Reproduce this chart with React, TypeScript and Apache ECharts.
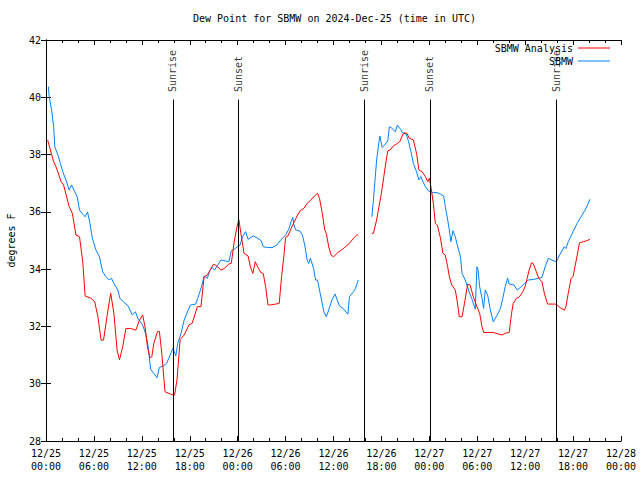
import React, { useEffect, useRef } from "react";
import * as echarts from "echarts";

// hours since 2024-12-25 00:00 UTC
const redHours = [0.2, 0.96, 1.25, 1.9, 2.2, 2.9, 3.3, 3.75, 4.2, 4.6, 4.9, 5.6, 6.1, 6.5, 6.9, 7.2, 7.7, 8.1, 8.5, 8.9, 9.2, 9.6, 10.0, 10.6, 11.25, 11.7, 12.1, 12.4, 12.7, 13.0, 13.25, 13.5, 13.96, 14.2, 14.5, 14.9, 15.4, 15.96, 16.1, 16.4, 16.8, 17.3, 17.9, 18.3, 18.96, 19.4, 19.8, 20.2, 20.6, 20.96, 21.25, 21.9, 22.3, 22.9, 23.2, 23.6, 23.96, 24.16, 24.4, 24.8, 25.3, 25.6, 25.9, 26.2, 26.6, 26.9, 27.2, 27.5, 27.8, 28.1, 28.75, 29.2, 29.5, 29.8, 30.0, 30.3, 30.7, 31.1, 31.5, 31.9, 32.3, 32.7, 33.1, 33.6, 34.0, 34.25, 34.6, 34.9, 35.1, 35.4, 35.7, 36.0, 36.5, 37.0, 37.5, 38.0, 38.5, 38.9, 39.1, 40.0, 40.8, 41.0, 41.4, 41.7, 42.0, 42.3, 42.6, 42.8, 43.1, 43.5, 44.0, 44.3, 44.6, 44.8, 45.2, 45.5, 46.0, 46.4, 46.7, 47.1, 47.5, 47.8, 48.0, 48.2, 48.5, 48.75, 49.0, 49.4, 49.7, 50.0, 50.3, 50.5, 50.8, 51.25, 51.5, 51.75, 52.1, 52.4, 52.8, 53.1, 53.5, 53.96, 54.3, 54.6, 54.8, 56.0, 56.7, 57.1, 57.5, 58.0, 58.3, 58.5, 58.9, 59.3, 59.7, 60.0, 60.2, 60.5, 60.8, 61.0, 61.4, 61.7, 62.1, 62.4, 62.8, 63.9, 64.4, 64.9, 65.1, 65.4, 65.75, 66.0, 66.4, 66.8, 67.3, 67.7, 68.1];
const redValues = [38.51, 37.75, 37.58, 37.05, 36.94, 36.18, 35.95, 35.19, 35.13, 34.26, 33.06, 32.99, 32.86, 32.34, 31.52, 31.52, 32.46, 33.16, 32.46, 31.18, 30.83, 31.29, 31.93, 31.93, 31.87, 32.22, 32.4, 31.99, 31.29, 30.91, 30.94, 31.41, 31.82, 31.82, 31.06, 29.72, 29.66, 29.6, 29.6, 30.13, 31.55, 31.7, 32.05, 32.11, 32.69, 32.69, 33.74, 33.79, 33.99, 34.17, 34.14, 33.97, 34.02, 34.18, 34.2, 35.02, 35.54, 35.72, 35.25, 34.55, 34.46, 34.08, 33.85, 34.26, 34.03, 33.88, 33.85, 33.39, 32.75, 32.75, 32.78, 32.8, 33.74, 34.49, 35.11, 35.16, 35.42, 35.66, 35.89, 36.06, 36.12, 36.3, 36.39, 36.55, 36.65, 36.47, 35.95, 35.37, 35.25, 34.78, 34.49, 34.43, 34.57, 34.67, 34.78, 34.9, 35.08, 35.19, 35.19, null, 35.25, 35.25, 35.72, 36.18, 36.65, 37.23, 37.81, 38.13, 38.16, 38.3, 38.39, 38.45, 38.65, 38.76, 38.74, 38.57, 38.51, 38.04, 37.46, 37.4, 37.23, 37.05, 37.17, 36.88, 36.3, 35.6, 35.54, 35.08, 34.55, 34.49, 34.08, 33.74, 33.45, 33.27, 32.86, 32.34, 32.34, 32.8, 33.48, 33.45, 33.04, 32.69, 32.46, 31.99, 31.79, 31.79, 31.73, 31.7, 31.76, 31.79, 32.46, 32.8, 32.98, 33.04, 33.21, 33.39, 33.62, 33.97, 34.22, 34.2, 33.91, 33.68, 33.56, 33.16, 32.78, 32.78, 32.65, 32.57, 32.69, 33.16, 33.68, 33.74, 34.32, 34.92, 34.96, 34.99, 35.04];

const blueHours = [0.3, 0.4, 0.7, 0.96, 1.1, 1.5, 1.8, 2.1, 2.5, 2.9, 3.2, 3.5, 3.9, 4.2, 4.5, 4.9, 5.2, 5.5, 5.8, 6.25, 6.7, 7.1, 7.5, 7.9, 8.2, 8.5, 9.0, 9.25, 9.7, 10.3, 10.8, 11.2, 11.5, 12.1, 12.5, 12.8, 13.1, 13.5, 13.9, 14.2, 14.7, 15.1, 15.5, 15.9, 16.25, 16.5, 16.9, 17.3, 17.7, 18.1, 18.75, 19.0, 19.5, 19.8, 20.2, 20.5, 20.8, 21.1, 21.5, 21.9, 22.4, 22.9, 23.2, 23.6, 23.96, 24.3, 24.6, 25.0, 25.3, 25.96, 26.5, 26.96, 27.2, 27.7, 28.3, 28.9, 29.4, 30.0, 30.4, 30.7, 30.9, 31.0, 31.25, 31.8, 32.1, 32.4, 32.7, 32.9, 33.1, 33.5, 33.75, 34.0, 34.5, 34.8, 35.1, 35.4, 35.8, 36.2, 36.5, 36.75, 37.2, 37.8, 38.0, 38.5, 38.75, 39.1, 40.0, 40.8, 41.0, 41.2, 41.4, 41.7, 41.8, 42.1, 42.4, 42.8, 43.0, 43.3, 43.75, 44.0, 44.4, 44.7, 45.1, 45.4, 45.7, 46.0, 46.4, 46.7, 46.96, 47.2, 47.5, 47.9, 48.5, 49.0, 49.4, 49.8, 50.0, 50.3, 50.5, 50.7, 50.96, 51.25, 51.5, 51.9, 52.1, 52.5, 52.9, 53.3, 53.75, 53.96, 54.1, 54.3, 54.6, 54.8, 55.0, 55.3, 55.6, 56.0, 56.5, 56.9, 57.2, 57.5, 57.8, 58.0, 58.6, 59.0, 59.5, 59.9, 60.4, 61.0, 61.7, 62.1, 62.5, 62.9, 63.3, 63.9, 64.3, 64.9, 65.1, 65.4, 66.0, 66.5, 67.0, 67.5, 67.9, 68.1];
const blueValues = [40.37, 40.02, 39.56, 38.97, 38.27, 37.98, 37.69, 37.4, 37.11, 36.76, 36.94, 36.76, 36.53, 36.06, 35.95, 35.83, 36.0, 35.6, 35.08, 34.67, 34.43, 33.91, 33.74, 33.62, 33.68, 33.5, 33.27, 32.98, 32.86, 32.71, 32.4, 32.51, 32.28, 32.05, 31.73, 31.29, 30.5, 30.36, 30.21, 30.57, 30.62, 30.71, 30.97, 31.24, 30.97, 31.41, 31.75, 32.22, 32.51, 32.75, 32.78, 32.98, 33.41, 33.76, 33.68, 33.94, 34.06, 33.97, 34.14, 34.32, 34.29, 34.26, 34.64, 34.7, 34.78, 34.84, 35.13, 35.31, 35.04, 35.16, 35.08, 34.99, 34.78, 34.76, 34.75, 34.84, 35.02, 35.19, 35.39, 35.66, 35.81, 35.6, 35.37, 35.33, 35.19, 34.84, 34.32, 34.2, 34.38, 34.03, 33.62, 33.62, 32.92, 32.51, 32.34, 32.57, 32.92, 33.13, 32.9, 32.71, 32.63, 32.43, 33.04, 33.21, 33.33, 33.62, null, 35.83, 36.41, 37.11, 37.81, 38.45, 38.65, 38.25, 38.33, 38.48, 38.97, 38.92, 38.8, 39.03, 38.88, 38.74, 38.72, 38.45, 38.1, 37.69, 37.4, 37.11, 37.23, 37.05, 36.88, 36.73, 36.67, 36.67, 36.62, 36.55, 36.18, 35.72, 35.37, 34.96, 35.34, 35.13, 34.84, 34.43, 33.85, 33.62, 33.27, 32.98, 32.6, 34.08, 33.97, 33.39, 32.98, 32.63, 33.27, 33.1, 32.63, 32.16, 32.4, 32.63, 32.98, 33.39, 33.68, 33.48, 33.45, 33.27, 33.39, 33.5, 33.62, 33.64, 33.68, 33.71, 34.08, 34.38, 34.32, 34.26, 34.49, 34.78, 34.72, 34.96, 35.31, 35.6, 35.83, 36.06, 36.3, 36.44];

const sunHours = [15.88, 24.12, 39.9, 48.08, 63.88];
const sunLabels = ["Sunrise", "Sunset", "Sunrise", "Sunset", "Sunrise"];
const sunLineTop = 39.92;

const xMin = 0;
const xMax = 72;
const xInterval = 6;
const yMin = 28;
const yMax = 42;
const yInterval = 2;

const FONT = "DejaVu Sans Mono";

function fmtX(v: number): string {
  const day = 25 + Math.floor(v / 24);
  const hh = Math.round(v % 24);
  return `12/${day}\n${String(hh).padStart(2, "0")}:00`;
}

export default function App() {
  const ref = useRef<HTMLDivElement>(null);
  useEffect(() => {
    if (!ref.current) return;
    const chart = echarts.init(ref.current, undefined, { renderer: "svg" });
    const pairs = (hs: number[], vs: (number | null)[]) =>
      hs.map((h, i) => [h, vs[i] == null ? "-" : vs[i]]);
    const axisLine = { show: true, lineStyle: { color: "#000", width: 1 } };
    const tick = { show: true, inside: true, length: 5, lineStyle: { color: "#000", width: 1 } };
    const minor = { show: true, splitNumber: 3, length: 3, lineStyle: { color: "#000", width: 1 } };
    const legendBase = {
      right: 30,
      padding: 0,
      align: "right",
      icon: "rect",
      itemWidth: 32,
      itemHeight: 1,
      selectedMode: false,
      textStyle: { fontFamily: FONT, fontSize: 10, color: "#000" },
    };
    chart.setOption({
      animation: false,
      backgroundColor: "#fff",
      title: {
        text: "Dew Point for SBMW on 2024-Dec-25 (time in UTC)",
        left: 193,
        top: 13,
        padding: 0,
        textStyle: { fontFamily: FONT, fontSize: 10, fontWeight: "normal", color: "#000" },
      },
      legend: [
        { ...legendBase, data: ["SBMW Analysis"], top: 43 },
        { ...legendBase, data: ["SBMW"], top: 56 },
      ],
      grid: {
        left: 46,
        right: 19,
        top: 40,
        bottom: 39,
        show: false,
        containLabel: false,
        outerBoundsMode: "none",
      },
      xAxis: [
        {
          type: "value",
          min: xMin,
          max: xMax,
          interval: xInterval,
          position: "bottom",
          axisLine,
          axisTick: tick,
          minorTick: minor,
          splitLine: { show: false },
          axisLabel: {
            formatter: fmtX,
            fontFamily: FONT,
            fontSize: 10,
            color: "#000",
            lineHeight: 13,
            margin: 6,
          },
        },
        {
          type: "value",
          min: xMin,
          max: xMax,
          interval: xInterval,
          position: "top",
          axisLine,
          axisTick: tick,
          minorTick: minor,
          splitLine: { show: false },
          axisLabel: { show: false },
        },
      ],
      yAxis: [
        {
          type: "value",
          min: yMin,
          max: yMax,
          interval: yInterval,
          position: "left",
          name: "degrees F",
          nameLocation: "middle",
          nameGap: 30,
          nameTextStyle: { fontFamily: FONT, fontSize: 10, color: "#000" },
          axisLine,
          axisTick: tick,
          splitLine: { show: false },
          axisLabel: { fontFamily: FONT, fontSize: 10, color: "#000", margin: 5 },
        },
        {
          type: "value",
          min: yMin,
          max: yMax,
          interval: yInterval,
          position: "right",
          axisLine,
          axisTick: tick,
          splitLine: { show: false },
          axisLabel: { show: false },
        },
      ],
      series: [
        {
          name: "SBMW Analysis",
          type: "line",
          data: pairs(redHours, redValues),
          showSymbol: false,
          symbol: "none",
          connectNulls: false,
          lineStyle: { color: "#ff0000", width: 1 },
          itemStyle: { color: "#ff0000" },
          z: 3,
          markLine: {
            silent: true,
            symbol: "none",
            label: { show: false },
            lineStyle: { color: "#000", width: 1, type: "solid" },
            data: sunHours.map((h) => [{ coord: [h, yMin] }, { coord: [h, sunLineTop] }]),
          },
        },
        {
          name: "SBMW",
          type: "line",
          data: pairs(blueHours, blueValues),
          showSymbol: false,
          symbol: "none",
          connectNulls: false,
          lineStyle: { color: "#0080ff", width: 1 },
          itemStyle: { color: "#0080ff" },
          z: 2,
        },
        {
          name: "sun",
          type: "scatter",
          symbolSize: 1,
          itemStyle: { color: "transparent" },
          silent: true,
          data: sunHours.map((h, i) => ({ value: [h, sunLineTop], name: sunLabels[i] })),
          label: {
            show: true,
            position: "top",
            distance: 7,
            rotate: 90,
            align: "left",
            verticalAlign: "middle",
            formatter: (p: any) => p.name,
            fontFamily: FONT,
            fontSize: 10,
            color: "#000",
          },
          z: 1,
        },
      ],
    });
    return () => chart.dispose();
  }, []);
  return (
    <div
      ref={ref}
      style={{ position: "fixed", left: 0, top: 0, width: 640, height: 480, background: "#fff" }}
    />
  );
}
